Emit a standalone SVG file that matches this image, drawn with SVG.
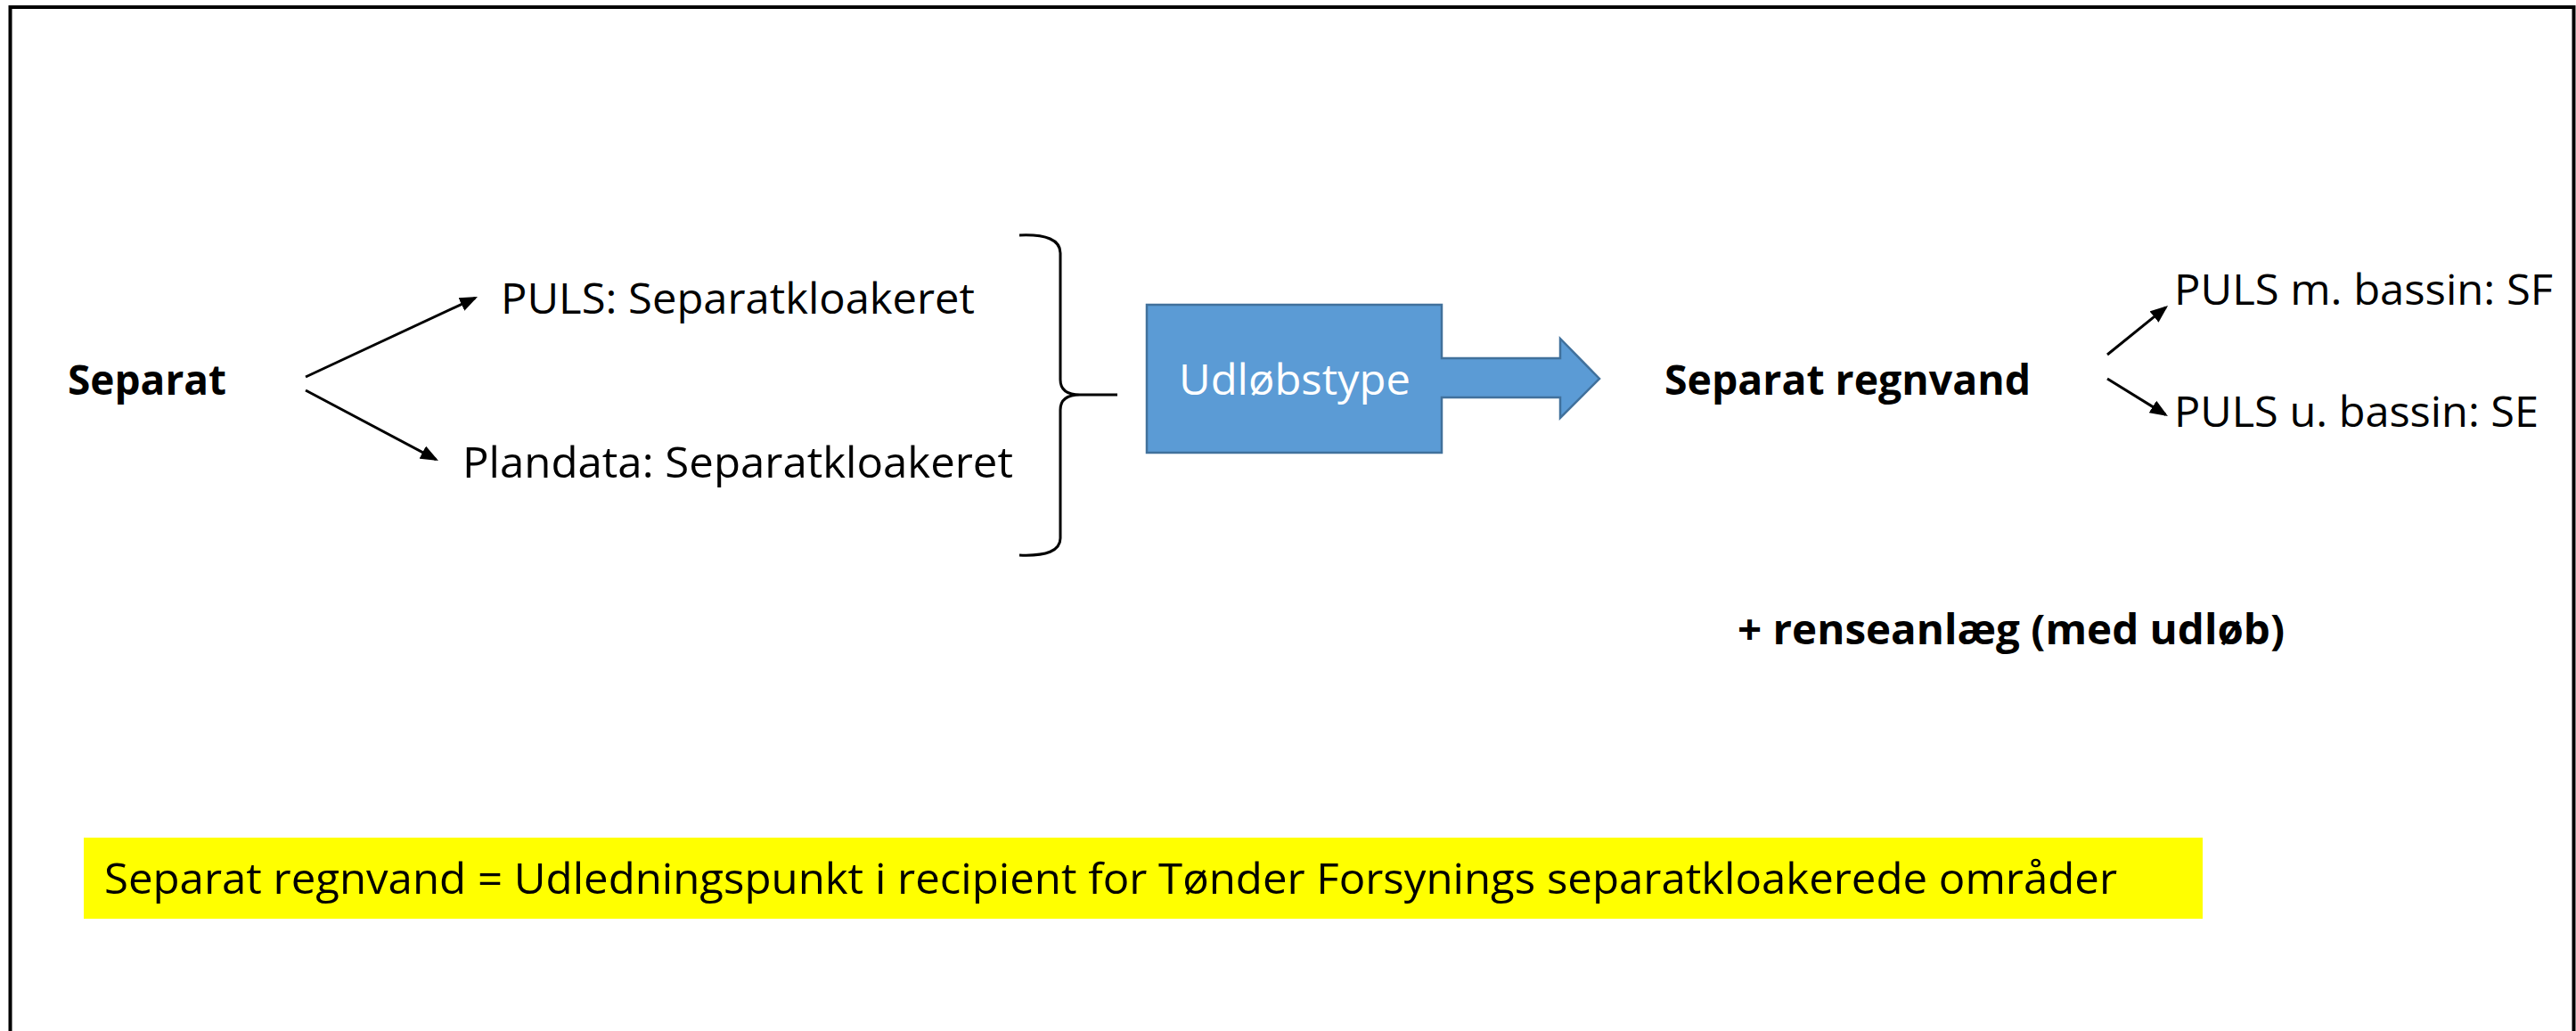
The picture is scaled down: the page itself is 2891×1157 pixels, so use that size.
<svg xmlns="http://www.w3.org/2000/svg" width="2891" height="1157" viewBox="0 0 2891 1157">
<style>
.t{font-family:"Open Sans","Liberation Sans",sans-serif;font-size:47px;fill:#000}
.b{font-weight:bold}
.w{fill:#fff}
.ln{fill:none;stroke:#000;stroke-width:3}
</style>
<defs>
<marker id="ah" viewBox="0 0 20 16" refX="17" refY="8" markerWidth="20" markerHeight="16" markerUnits="userSpaceOnUse" orient="auto">
<path d="M0,0 L20,8 L0,16 Z" fill="#000"/>
</marker>
</defs>
<rect x="0" y="0" width="2891" height="1157" fill="#fff"/>
<rect x="11.5" y="8" width="2877" height="1160" fill="none" stroke="#000" stroke-width="4"/>
<g id="separat"><text class="t b" x="76" y="443" textLength="178" lengthAdjust="spacingAndGlyphs">Separat</text></g>
<g id="puls"><text class="t" x="562" y="352" textLength="532" lengthAdjust="spacingAndGlyphs">PULS: Separatkloakeret</text></g>
<g id="plandata"><text class="t" x="519" y="536" textLength="618" lengthAdjust="spacingAndGlyphs">Plandata: Separatkloakeret</text></g>
<g id="brace"><path class="ln" d="M1144,264 Q1190,262 1190,284 L1190,426 Q1190,443 1212,443 L1254,443 M1212,443 Q1190,443 1190,460 L1190,604 Q1190,625 1144,623"/></g>
<g id="udlobstype">
<path d="M1287,342 L1618,342 L1618,402 L1751,402 L1751,380 L1795,425 L1751,469 L1751,446 L1618,446 L1618,508 L1287,508 Z" fill="#5B9BD5" stroke="#41719C" stroke-width="2.5"/>
<text class="t w" x="1323" y="443" textLength="260" lengthAdjust="spacingAndGlyphs">Udløbstype</text>
</g>
<g id="separat-regnvand"><text class="t b" x="1868" y="443" textLength="411" lengthAdjust="spacingAndGlyphs">Separat regnvand</text></g>
<g id="puls-m-bassin"><text class="t" x="2440" y="342" textLength="425" lengthAdjust="spacingAndGlyphs">PULS m. bassin: SF</text></g>
<g id="puls-u-bassin"><text class="t" x="2440" y="479" textLength="409" lengthAdjust="spacingAndGlyphs">PULS u. bassin: SE</text></g>
<g id="renseanlaeg"><text class="t b" x="1950" y="723" textLength="614" lengthAdjust="spacingAndGlyphs">+ renseanlæg (med udløb)</text></g>
<g id="note">
<rect x="94" y="940" width="2378" height="91" fill="#FFFF00"/>
<text class="t" x="117" y="1003" textLength="2259" lengthAdjust="spacingAndGlyphs">Separat regnvand = Udledningspunkt i recipient for Tønder Forsynings separatkloakerede områder</text>
</g>
<g id="connectors">
<line class="ln" x1="343" y1="423" x2="533.3" y2="334.3" marker-end="url(#ah)"/>
<line class="ln" x1="343" y1="438" x2="489.3" y2="515.6" marker-end="url(#ah)"/>
<line class="ln" x1="2365" y1="398" x2="2430.7" y2="344.9" marker-end="url(#ah)"/>
<line class="ln" x1="2365" y1="425" x2="2430.4" y2="465.4" marker-end="url(#ah)"/>
</g>
</svg>
